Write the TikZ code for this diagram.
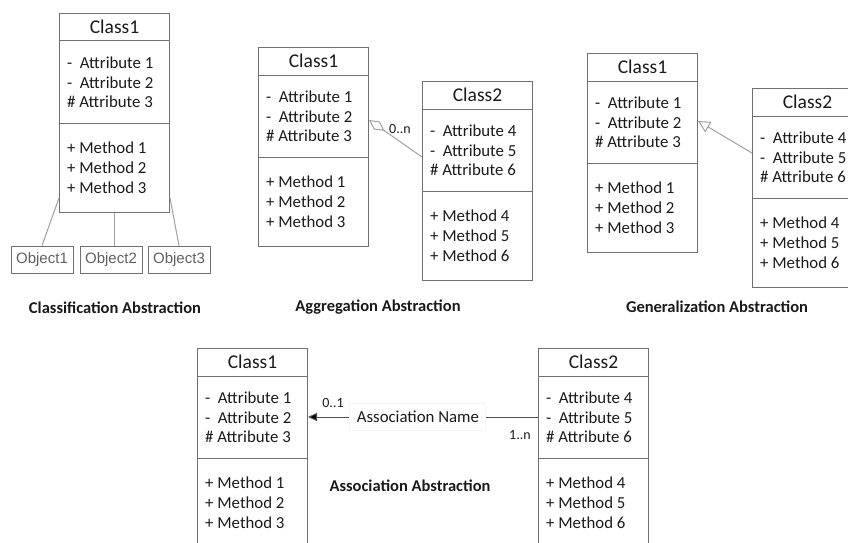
\documentclass[tikz,border=0pt]{standalone}
\usepackage{fontspec}
\setmainfont{Carlito}
\newfontfamily\objfont{Liberation Sans}
\usetikzlibrary{arrows.meta,calc}

\definecolor{boxc}{HTML}{707070}
\definecolor{linec}{HTML}{A0A0A0}
\definecolor{assocc}{HTML}{505050}
\definecolor{txtc}{HTML}{1A1A1A}
\definecolor{objtxt}{HTML}{606060}

\tikzset{
 classbox/.style={draw=boxc, line width=1pt, minimum width=110pt, minimum height=199pt, inner sep=0pt, anchor=north west},
 divider/.style={draw=boxc, line width=1pt},
 titletext/.style={font=\fontsize{19.5}{22}\selectfont, text=txtc, inner sep=0pt},
 membertext/.style={font=\fontsize{16.8}{19}\selectfont, text=txtc, inner sep=0pt, anchor=west},
 objbox/.style={draw=boxc, line width=0.8pt, minimum width=62pt, minimum height=27pt, inner sep=0pt, font=\objfont\fontsize{15}{17}\selectfont, text=objtxt},
 link/.style={draw=linec, line width=1pt},
 assoc/.style={draw=assocc, line width=1pt},
 caption/.style={font=\bfseries\fontsize{16.5}{19}\selectfont, text=txtc, inner sep=0pt},
 mult/.style={font=\fontsize{14}{16}\selectfont, text=txtc, inner sep=0pt},
 namebox/.style={fill=white, draw=black!4, minimum width=136pt, minimum height=27pt, inner sep=0pt, font=\fontsize{16.8}{19}\selectfont, text=txtc},
}

% #1 name, #2 left, #3 top, #4 title, #5 #6 #7 member numbers
\newcommand{\umlclass}[7]{%
 \node[classbox] (#1) at (#2,#3) {};
 \draw[divider] ($(#1.north west)+(0,28)$) -- ($(#1.north east)+(0,28)$);
 \draw[divider] ($(#1.north west)+(0,110)$) -- ($(#1.north east)+(0,110)$);
 \node[titletext] (#1-t) at ($(#1.north)+(0,14)$) {#4};
 \node[membertext] (#1-a1) at ($(#1.north west)+(8,50)$) {-\ \ Attribute #5};
 \node[membertext] (#1-a2) at ($(#1.north west)+(8,70)$) {-\ \ Attribute #6};
 \node[membertext] (#1-a3) at ($(#1.north west)+(8,89)$) {\#\ Attribute #7};
 \node[membertext] (#1-m1) at ($(#1.north west)+(8,135)$) {+\ Method #5};
 \node[membertext] (#1-m2) at ($(#1.north west)+(8,155)$) {+\ Method #6};
 \node[membertext] (#1-m3) at ($(#1.north west)+(8,175)$) {+\ Method #7};
}

\begin{document}
\begin{tikzpicture}[x=1pt,y=-1pt]
\useasboundingbox (0,0) rectangle (848,543);
\clip (0,0) rectangle (848,543);

% ---------- Classification ----------
\umlclass{cl}{59}{13}{Class1}{1}{2}{3}
\node[objbox] (ob1) at (42,259.5) {Object1};
\node[objbox] (ob2) at (111,259.5) {Object2};
\node[objbox] (ob3) at (179,259.5) {Object3};
\draw[link] ($(cl.north west)+(0,185)$) -- (ob1.north);
\draw[link] (cl.south) -- (cl.south |- ob2.north);
\draw[link] ($(cl.north east)+(0,185)$) -- (ob3.north);
\node[caption] (cap1) at (115,308) {Classification Abstraction};

% ---------- Aggregation ----------
\umlclass{ag1}{258}{47}{Class1}{1}{2}{3}
\umlclass{ag2}{422}{81}{Class2}{4}{5}{6}
\draw[link, {Diamond[open,length=19pt,width=10pt]}-] ($(ag1.north east)+(0,73)$) -- ($(ag2.north west)+(0,76)$);
\node[mult] (agm) at (400,129) {0..n};
\node[caption] (cap2) at (378,307) {Aggregation Abstraction};

% ---------- Generalization ----------
\umlclass{ge1}{587}{53}{Class1}{1}{2}{3}
\umlclass{ge2}{752}{88}{Class2}{4}{5}{6}
\draw[link, {Triangle[open,length=12pt,width=12pt]}-] ($(ge1.north east)+(0,68)$) -- ($(ge2.north west)+(0,65)$);
\node[caption] (cap3) at (717,307) {Generalization Abstraction};

% ---------- Association ----------
\umlclass{as1}{197}{348}{Class1}{1}{2}{3}
\umlclass{as2}{538}{348}{Class2}{4}{5}{6}
\draw[assoc, {Triangle[length=9pt,width=8pt,fill=black]}-] ($(as1.north east)+(0,69)$) -- ($(as2.north west)+(0,69)$)
  node[namebox, pos=0.478] (asn) {Association Name};
\node[mult] (asm1) at (333,403) {0..1};
\node[mult] (asm2) at (520,435) {1..n};
\node[caption] (cap4) at (410,486) {Association Abstraction};
\end{tikzpicture}
\end{document}
